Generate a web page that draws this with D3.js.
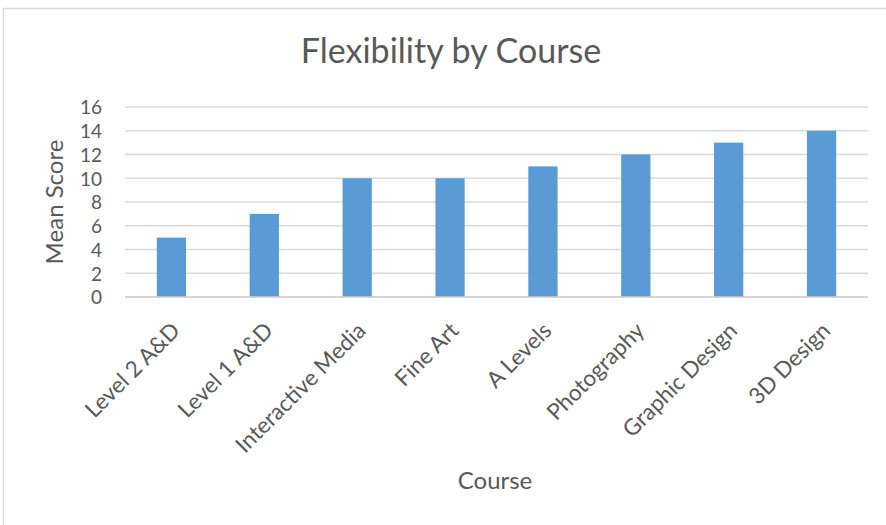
<!DOCTYPE html>
<html>
<head>
<meta charset="utf-8">
<script src="https://cdn.jsdelivr.net/npm/d3@7"></script>
<style>
  html, body { margin: 0; padding: 0; background: #fff; }
  svg { display: block; font-family: Lato, "Open Sans", sans-serif; }
</style>
</head>
<body>
<svg id="chart" width="886" height="525"></svg>
<script>
// Course names and mean flexibility scores
const courses = ["Level 2 A&D", "Level 1 A&D", "Interactive Media", "Fine Art",
                 "A Levels", "Photography", "Graphic Design", "3D Design"];
const meanScores = [5, 7, 10, 10, 11, 12, 13, 14];
const yTicks = [0, 2, 4, 6, 8, 10, 12, 14, 16];

const titleText = "Flexibility by Course";
const xTitle = "Course";
const yTitle = "Mean Score";

const svg = d3.select("#chart");
const W = 886, H = 525;
const plot = { left: 125, right: 868, top: 107, bottom: 297 };
const textColor = "#595959";
const gridColor = "#d9d9d9";
const barColor = "#5b9bd5";
const fontFamily = "Lato, 'Open Sans', sans-serif";

// Chart area outline
svg.append("rect")
  .attr("x", 3.5).attr("y", 8.5)
  .attr("width", W + 10).attr("height", H + 10)
  .attr("fill", "#fff")
  .attr("stroke", gridColor).attr("stroke-width", 1.5);

const x = d3.scaleBand()
  .domain(courses)
  .range([plot.left, plot.right])
  .paddingInner(0.685)
  .paddingOuter(0.3425);

const y = d3.scaleLinear()
  .domain([0, 16])
  .range([plot.bottom, plot.top]);

// Horizontal gridlines
svg.append("g")
  .selectAll("line")
  .data(yTicks)
  .join("line")
  .attr("x1", plot.left).attr("x2", plot.right)
  .attr("y1", d => y(d)).attr("y2", d => y(d))
  .attr("stroke", gridColor).attr("stroke-width", 1.5);

// Bars
svg.append("g")
  .selectAll("rect")
  .data(courses.map((c, i) => ({ course: c, value: meanScores[i] })))
  .join("rect")
  .attr("x", d => x(d.course))
  .attr("width", x.bandwidth())
  .attr("y", d => y(d.value))
  .attr("height", d => y(0) - y(d.value))
  .attr("fill", barColor);

// Category axis line
svg.append("line")
  .attr("x1", plot.left).attr("x2", plot.right)
  .attr("y1", y(0)).attr("y2", y(0))
  .attr("stroke", "#d0d0d0").attr("stroke-width", 1.5);

// Y axis tick labels
const yAxis = d3.axisLeft(y).tickValues(yTicks).tickSize(0).tickPadding(0);
const gy = svg.append("g")
  .attr("transform", `translate(102,0)`)
  .call(yAxis)
  .attr("font-family", fontFamily)
  .attr("font-size", 19);
gy.select(".domain").remove();
gy.selectAll("text")
  .attr("fill", textColor)
  .attr("dy", "0.36em");

// X axis category labels, rotated
const xAxis = d3.axisBottom(x).tickSize(0).tickPadding(0);
const gx = svg.append("g")
  .attr("transform", `translate(0,${plot.bottom})`)
  .call(xAxis)
  .attr("font-family", fontFamily)
  .attr("font-size", 22.5);
gx.select(".domain").remove();
gx.selectAll("text")
  .attr("fill", textColor)
  .attr("text-anchor", "end")
  .attr("dy", null)
  .attr("y", 0)
  .attr("transform", "translate(10,35) rotate(-45)");

// Title
svg.append("text")
  .attr("x", 451).attr("y", 63)
  .attr("text-anchor", "middle")
  .attr("fill", textColor)
  .style("font-size", "34px")
  .text(titleText);

// Axis titles
svg.append("text")
  .attr("x", 495).attr("y", 489)
  .attr("text-anchor", "middle")
  .attr("fill", textColor)
  .style("font-size", "24px")
  .text(xTitle);

svg.append("text")
  .attr("transform", "translate(63,202) rotate(-90)")
  .attr("text-anchor", "middle")
  .attr("fill", textColor)
  .style("font-size", "24px")
  .text(yTitle);
</script>
</body>
</html>
